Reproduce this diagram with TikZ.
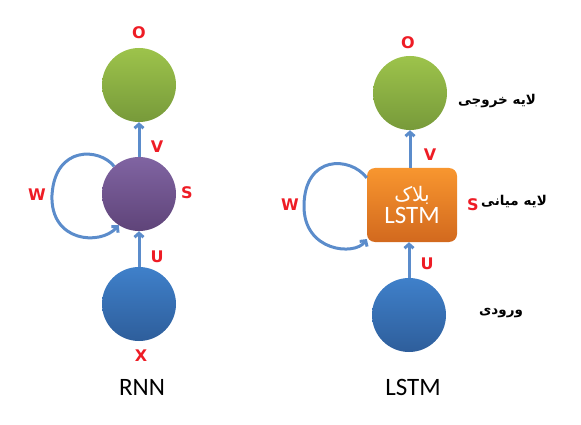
\documentclass[tikz,border=0pt]{standalone}
\usepackage{fontspec}
\setmainfont{Carlito}
\newfontfamily\lblfont{DejaVu Sans}
\newfontfamily\arfont[Script=Arabic]{DejaVu Sans}
\TeXXeTstate=1
\usetikzlibrary{arrows.meta,calc}
\definecolor{gtop}{HTML}{9DC34B}
\definecolor{gbot}{HTML}{779A3A}
\definecolor{ptop}{HTML}{8064A2}
\definecolor{pbot}{HTML}{5F4479}
\definecolor{btop}{HTML}{3F80CA}
\definecolor{bbot}{HTML}{2E5E9B}
\definecolor{otop}{HTML}{F8962F}
\definecolor{obot}{HTML}{D2691E}
\definecolor{linecol}{HTML}{5B8CCB}
\definecolor{myred}{HTML}{EE1C25}
\begin{document}
\begin{tikzpicture}[x=1pt,y=-1pt,
  circ/.style={circle, minimum size=74pt, inner sep=0pt},
  green/.style={circ, top color=gtop, bottom color=gbot},
  purple/.style={circ, top color=ptop, bottom color=pbot},
  blue/.style={circ, top color=btop, bottom color=bbot},
  lstmbox/.style={rectangle, rounded corners=8pt, minimum width=90pt, minimum height=74pt, inner sep=0pt,
     top color=otop, bottom color=obot, text=white, align=center},
  lbl/.style={text=myred, font=\lblfont\bfseries\fontsize{16}{16}\selectfont, inner sep=0pt},
  per/.style={font=\arfont\bfseries\fontsize{13.5}{13.5}\selectfont, inner sep=0pt},
  capt/.style={font=\fontsize{25}{25}\selectfont, inner sep=0pt},
  conn/.style={draw=linecol, line width=3pt, -{Straight Barb[length=4pt,width=9pt]}}
]
\useasboundingbox (0,0) rectangle (581,425);
% RNN
\node[green] (ro) at (139,85) {};
\node[purple] (rs) at (139,194) {};
\node[blue] (rx) at (139,304) {};
\draw[conn] (rx) -- (rs);
\draw[conn] (rs) -- (ro);
\coordinate (rl) at (52,195);
\draw[conn] (rs.132) .. controls (100,148) and (55,145) .. (rl) .. controls (50,242) and (100,246) .. (rs.237);
\node[lbl] (rlo) at (139,33) {O};
\node[lbl] (rlv) at (157,147) {V};
\node[lbl] (rls) at (187,193) {S};
\node[lbl] (rlw) at (37,195) {W};
\node[lbl] (rlu) at (157,257) {U};
\node[lbl] (rlx) at (141,356) {X};
\node[capt] (rcap) at (142,387) {RNN};
% LSTM
\node[green] (lo) at (410,93) {};
\node[lstmbox] (lb) at (412,205) {{\arfont\fontsize{20}{20}\selectfont\beginR بلاک\endR}\\[2pt]{\fontsize{25}{25}\selectfont LSTM}};
\node[blue] (lx) at (409,315) {};
\draw[conn] (lx) -- (lx |- lb.south);
\draw[conn] (lo |- lb.north) -- (lo);
\coordinate (ll) at (304,205);
\draw[conn] (lb.149) .. controls (350,156) and (305,155) .. (ll) .. controls (303,252) and (355,256) .. (lb.217);
\node[lbl] (llo) at (408,43) {O};
\node[lbl] (llv) at (430,155) {V};
\node[lbl] (lls) at (473,205) {S};
\node[lbl] (llw) at (290,205) {W};
\node[lbl] (llu) at (427,264) {U};
\node[capt] (lcap) at (413,387) {LSTM};
\node[per] (pout) at (497,101) {\beginR لایه خروجی\endR};
\node[per] (pmid) at (514,201) {\beginR لایه میانی\endR};
\node[per] (pin) at (501,313) {\beginR ورودی\endR};
\end{tikzpicture}
\end{document}
